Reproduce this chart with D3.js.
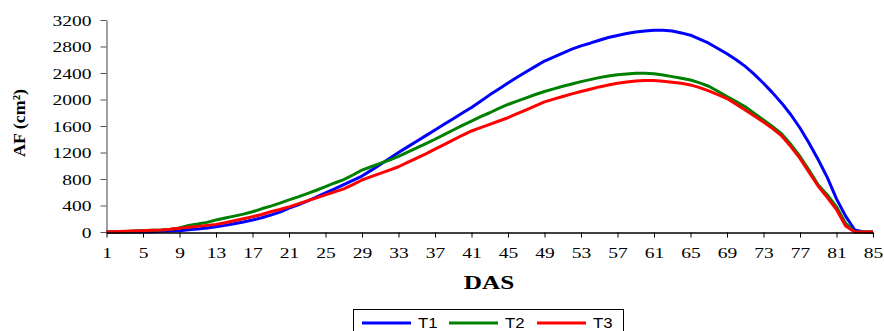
<!DOCTYPE html>
<html>
<head>
<meta charset="utf-8">
<script src="https://cdn.jsdelivr.net/npm/d3@7"></script>
<style>
  html, body { margin: 0; padding: 0; background: #fff; }
  svg { display: block; }
</style>
</head>
<body>
<svg id="chart" width="884" height="331"></svg>
<script>
const days = d3.range(1, 86);
const xTickLabels = [1,5,9,13,17,21,25,29,33,37,41,45,49,53,57,61,65,69,73,77,81,85];
const yTickLabels = [0,400,800,1200,1600,2000,2400,2800,3200];
const seriesNames = ["T1", "T2", "T3"];
const seriesColors = ["#0000ff", "#008000", "#ff0000"];

const t1 = [0,0,0,0,0,5,10,15,20,35,45,60,80,100,125,150,180,215,255,300,
  360,410,465,525,590,650,715,780,845,930,1020,1110,1200,1285,1370,1455,1540,1625,1710,1795,
  1880,1975,2070,2160,2250,2335,2420,2500,2580,2640,2700,2760,2810,2850,2895,2935,2965,2995,3020,3035,
  3045,3045,3035,3005,2970,2910,2850,2770,2690,2600,2500,2380,2245,2100,1945,1770,1570,1340,1090,820,
  500,240,30,0,0];
const t2 = [0,0,5,15,20,25,30,40,60,100,120,145,180,210,240,270,305,350,390,435,
  485,530,580,630,685,740,790,860,935,985,1035,1085,1140,1205,1270,1335,1400,1470,1540,1610,
  1675,1740,1800,1865,1925,1975,2025,2075,2120,2160,2200,2235,2270,2300,2330,2355,2375,2385,2395,2395,
  2390,2370,2345,2320,2295,2250,2200,2125,2045,1970,1890,1790,1690,1590,1480,1320,1140,930,710,560,
  380,130,0,0,0];
const t3 = [0,5,10,15,20,25,30,40,55,70,85,100,115,140,170,200,230,265,305,340,
  380,425,470,515,560,605,650,715,785,835,885,935,985,1050,1115,1180,1250,1320,1390,1460,
  1525,1575,1625,1675,1725,1785,1845,1905,1965,2005,2045,2085,2120,2155,2190,2220,2245,2265,2280,2285,
  2285,2275,2260,2245,2220,2180,2130,2075,2015,1930,1840,1750,1660,1560,1450,1290,1110,900,690,520,
  340,90,0,0,0];
const seriesValues = [t1, t2, t3];

const svg = d3.select("#chart");
const x = d3.scaleLinear().domain([1, 85]).range([106.5, 873]);
const y = d3.scaleLinear().domain([0, 3200]).range([232, 20]);

const serif = "'Liberation Serif', 'Times New Roman', serif";
const sans = "'Liberation Sans', Arial, sans-serif";

function stretch(sel, f) {
  sel.each(function() {
    const w = this.getComputedTextLength();
    d3.select(this).attr("textLength", w * f).attr("lengthAdjust", "spacingAndGlyphs");
  });
}

// Y axis
const yAxis = svg.append("g")
  .attr("transform", "translate(106.5,0)")
  .call(d3.axisLeft(y).tickValues(yTickLabels).tickFormat(d3.format("d")).tickSize(6).tickPadding(9).tickSizeOuter(0));
yAxis.select(".domain").attr("stroke", "#808080").attr("stroke-width", 1.5);
yAxis.selectAll(".tick line").attr("stroke", "#555");
yAxis.selectAll(".tick text")
  .attr("font-family", serif).attr("font-size", 15).attr("fill", "#000").attr("dy", "0.34em");
stretch(yAxis.selectAll(".tick text"), 1.3);

// Lines
const line = d3.line().x((d, i) => x(days[i])).y(d => y(d));
seriesValues.forEach((vals, k) => {
  svg.append("path")
    .datum(vals)
    .attr("fill", "none")
    .attr("stroke", seriesColors[k])
    .attr("stroke-width", 3)
    .attr("stroke-linejoin", "round")
    .attr("d", line);
});

// X axis
const xAxis = svg.append("g")
  .attr("transform", "translate(0,232.5)")
  .call(d3.axisBottom(x).tickValues(xTickLabels).tickFormat(d3.format("d")).tickSize(5).tickPadding(10).tickSizeOuter(0));
xAxis.select(".domain").attr("stroke", "#000").attr("stroke-width", 1.3);
xAxis.selectAll(".tick line").attr("stroke", "#000");
xAxis.selectAll(".tick text")
  .attr("font-family", serif).attr("font-size", 15).attr("fill", "#000");
stretch(xAxis.selectAll(".tick text"), 1.3);

// Axis titles
const xt = svg.append("text")
  .attr("x", 489).attr("y", 289)
  .attr("text-anchor", "middle")
  .attr("font-family", serif).attr("font-weight", "bold").attr("font-size", 18)
  .text("DAS");
stretch(xt, 1.4);

svg.append("text")
  .attr("transform", "translate(25,123) rotate(-90)")
  .attr("text-anchor", "middle")
  .attr("font-family", serif).attr("font-weight", "bold").attr("font-size", 17)
  .attr("textLength", 68).attr("lengthAdjust", "spacingAndGlyphs")
  .text("AF (cm²)");

// Legend
const legend = svg.append("g");
legend.append("rect")
  .attr("x", 353.5).attr("y", 309.5).attr("width", 270).attr("height", 30)
  .attr("fill", "#fff").attr("stroke", "#000").attr("stroke-width", 1);
const legX = [362, 449, 537];
seriesNames.forEach((name, k) => {
  legend.append("line")
    .attr("x1", legX[k]).attr("x2", legX[k] + 49)
    .attr("y1", 323).attr("y2", 323)
    .attr("stroke", seriesColors[k]).attr("stroke-width", 3);
  const t = legend.append("text")
    .attr("x", legX[k] + 56).attr("y", 328)
    .attr("font-family", sans).attr("font-size", 14)
    .text(name);
  stretch(t, 1.2);
});
</script>
</body>
</html>
